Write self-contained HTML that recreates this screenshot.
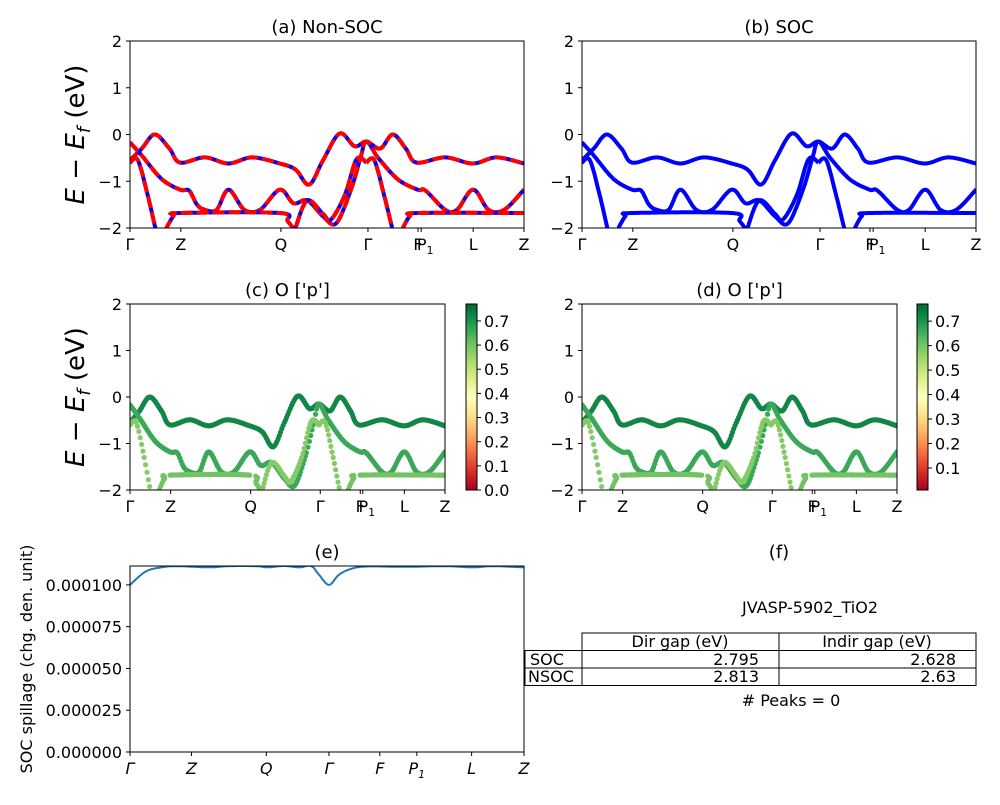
<!DOCTYPE html>
<html><head><meta charset="utf-8">
<style>
body{margin:0;background:#fff;}
svg text{font-family:"DejaVu Sans","Liberation Sans",sans-serif;fill:#000;}
</style></head>
<body>
<svg id="fig" width="1000" height="800" viewBox="0 0 1000 800" xmlns="http://www.w3.org/2000/svg">
<defs>
<linearGradient id="cmapA" x1="0" y1="1" x2="0" y2="0">
<stop offset="0" stop-color="#a50026"/><stop offset="0.1" stop-color="#d73027"/><stop offset="0.2" stop-color="#f46d43"/><stop offset="0.3" stop-color="#fdae61"/><stop offset="0.4" stop-color="#fee08b"/><stop offset="0.5" stop-color="#ffffbf"/><stop offset="0.6" stop-color="#d9ef8b"/><stop offset="0.7" stop-color="#a6d96a"/><stop offset="0.8" stop-color="#66bd63"/><stop offset="0.9" stop-color="#1a9850"/><stop offset="1" stop-color="#006837"/>
</linearGradient>
</defs>
<g id="root"></g>
</svg>
<script>
// ---- data ----
const kLabels = ["Γ","Z","Q","Γ","F","P","L","Z"];
const kTicks = [0,0.129,0.383,0.604,0.731,0.739,0.871,1];
const yTicks = [-2,-1,0,1,2];
const bandT = [[0,-0.55],[0.03,-0.3],[0.063,0],[0.1,-0.3],[0.127,-0.6],[0.19,-0.49],[0.25,-0.62],[0.31,-0.49],[0.38,-0.62],[0.42,-0.75],[0.455,-1.07],[0.49,-0.55],[0.532,0.02],[0.57,-0.25],[0.6,-0.15],[0.635,-0.3],[0.667,0],[0.7,-0.3],[0.727,-0.6],[0.8,-0.49],[0.87,-0.62],[0.93,-0.49],[1,-0.62]];
const bandB = [[0,-0.17],[0.03,-0.45],[0.08,-0.95],[0.127,-1.18],[0.15,-1.2],[0.17,-1.5],[0.19,-1.61],[0.22,-1.61],[0.25,-1.18],[0.29,-1.61],[0.33,-1.61],[0.38,-1.18],[0.415,-1.47],[0.45,-1.41],[0.49,-1.75],[0.523,-1.9],[0.56,-1.2],[0.585,-0.5],[0.6,-0.15],[0.63,-0.5],[0.68,-0.96],[0.73,-1.18],[0.75,-1.2],[0.8,-1.61],[0.83,-1.61],[0.871,-1.18],[0.91,-1.61],[0.95,-1.61],[1,-1.18]];
const bandD = [[0,-0.6],[0.02,-0.55],[0.045,-1.3],[0.066,-2.05],[0.08,-2.4]];
const bandE = [[0.075,-2.4],[0.09,-2.05],[0.11,-1.75],[0.127,-1.68],[0.38,-1.68],[0.4,-1.85],[0.417,-2.05],[0.43,-2.3]];
const bandG = [[0.41,-2.3],[0.42,-2.0],[0.45,-1.41],[0.49,-1.7],[0.51,-1.82],[0.545,-1.3],[0.575,-0.53],[0.6,-0.6]];
const bandD2 = [[0.6,-0.6],[0.62,-0.55],[0.645,-1.3],[0.667,-2.05],[0.68,-2.4]];
const bandE2 = [[0.675,-2.4],[0.69,-2.05],[0.71,-1.75],[0.73,-1.68],[1,-1.68]];
const bands = [bandT,bandB,bandD,bandE,bandG,bandD2,bandE2];
const bandWeight = [0.72,0.66,0.58,0.6,0.58,0.58,0.6];
const spillT = [0,0.04,0.08,0.12,0.2,0.25,0.32,0.35,0.38,0.4,0.43,0.46,0.48,0.505,0.53,0.56,0.6,0.7,0.8,0.87,0.92,1];
const spillV = [10.0,10.8,11.05,11.12,11.05,11.12,11.12,11.05,11.12,11.12,11.05,11.12,10.6,10.0,10.6,10.95,11.1,11.08,11.12,11.05,11.12,11.05];
const spillTickT = [0,0.156,0.346,0.505,0.634,0.728,0.867,1];
const spillTickL = ["Γ","Z","Q","Γ","F","P","L","Z"];
const spillYTicks = [0,2.5,5,7.5,10];
const spillYLabels = ["0.000000","0.000025","0.000050","0.000075","0.000100"];
const cbTicksC = [0,0.1,0.2,0.3,0.4,0.5,0.6,0.7];
const cbTicksD = [0.1,0.2,0.3,0.4,0.5,0.6,0.7];

const NS="http://www.w3.org/2000/svg";
const root=document.getElementById('root');
function el(tag,attrs,parent,text){const e=document.createElementNS(NS,tag);for(const k in attrs)e.setAttribute(k,attrs[k]);if(text!==undefined)e.textContent=text;(parent||root).appendChild(e);return e;}

function cr(p0,p1,p2,p3,t){const t2=t*t,t3=t2*t;return 0.5*((2*p1)+(-p0+p2)*t+(2*p0-5*p1+4*p2-p3)*t2+(-p0+3*p1-3*p2+p3)*t3);}
function sample(b,n){const out=[];for(let i=0;i<b.length-1;i++){const p0=b[Math.max(0,i-1)],p1=b[i],p2=b[i+1],p3=b[Math.min(b.length-1,i+2)];const m=Math.max(2,Math.round((p2[0]-p1[0])*n));for(let j=0;j<m;j++){const t=j/m;out.push([cr(p0[0],p1[0],p2[0],p3[0],t),cr(p0[1],p1[1],p2[1],p3[1],t)]);}}out.push(b[b.length-1]);return out;}
const stops=[[0,[165,0,38]],[0.1,[215,48,39]],[0.2,[244,109,67]],[0.3,[253,174,97]],[0.4,[254,224,139]],[0.5,[255,255,191]],[0.6,[217,239,139]],[0.7,[166,217,106]],[0.8,[102,189,99]],[0.9,[26,152,80]],[1,[0,104,55]]];
function cmap(v){v=Math.max(0,Math.min(1,v));for(let i=0;i<stops.length-1;i++){if(v<=stops[i+1][0]){const t=(v-stops[i][0])/0.1;const c=stops[i][1].map((a,j)=>Math.round(a+(stops[i+1][1][j]-a)*t));return `rgb(${c})`;}}return 'rgb(0,104,55)';}

let clipId=0;
function panel(name,x0,x1,y0,y1,title,mode,showY){
  const g=el('g',{});
  const sx=k=>x0+k*(x1-x0), sy=e=>y1-(e+2)/4*(y1-y0);
  const id='clip'+(clipId++);
  const cp=el('clipPath',{id:id},g);el('rect',{x:x0,y:y0,width:x1-x0,height:y1-y0},cp);
  const marks=el('g',{'clip-path':`url(#${id})`},g);
  
  
  bands.forEach((b,bi)=>{
    if(mode==='dots'){
      const pts=sample(b,260);
      const col=cmap(bandWeight[bi]/0.77);
      pts.forEach(p=>{el('circle',{cx:sx(p[0]),cy:sy(p[1]),r:2.6,fill:col},marks);});
    }else{
      const pts=sample(b,800).map(p=>sx(p[0]).toFixed(1)+','+sy(p[1]).toFixed(1)).join(' ');
      const l=el('polyline',{points:pts,fill:'none',stroke:'#0000ff','stroke-width':4,'stroke-linejoin':'round'},marks);
      
      
      if(mode==='dash'){const d=el('polyline',{points:pts,fill:'none',stroke:'#ff0000','stroke-width':4,'stroke-dasharray':'12,4'},marks);
        
        }
    }
  });
  el('rect',{x:x0,y:y0,width:x1-x0,height:y1-y0,fill:'none',stroke:'#000','stroke-width':1},g);
  kTicks.forEach((k,i)=>{el('line',{x1:sx(k),x2:sx(k),y1:y1,y2:y1+4,stroke:'#000'},g);
    const t=el('text',{x:sx(k),y:y1+22,'font-size':16,'text-anchor':'middle'},g,kLabels[i]);
    if(i===5){t.setAttribute('x',sx(k)+4);el('tspan',{'font-size':11,dy:4},t,'1');}});
  yTicks.forEach(v=>{el('line',{x1:x0-4,x2:x0,y1:sy(v),y2:sy(v),stroke:'#000'},g);
    el('text',{x:x0-8,y:sy(v)+6,'font-size':16,'text-anchor':'end'},g,String(v).replace('-','−'));});
  el('text',{x:(x0+x1)/2,y:y0-8,'font-size':18,'text-anchor':'middle'},g,title);
  if(showY){const t=el('text',{transform:`translate(84,${(y0+y1)/2}) rotate(-90)`,'font-size':26,'text-anchor':'middle'},g);
    
    t.innerHTML='<tspan font-style="italic">E</tspan> − <tspan font-style="italic">E</tspan><tspan font-style="italic" font-size="18" dy="6">f</tspan><tspan dy="-6"> (eV)</tspan>';}
}
function colorbar(name,x,y0,y1,vmin,vmax,ticks){
  const g=el('g',{});
  el('rect',{x:x,y:y0,width:11,height:y1-y0,fill:'url(#cmapA)',stroke:'#000'},g);
  ticks.forEach(v=>{const yy=y1-(v-vmin)/(vmax-vmin)*(y1-y0);el('line',{x1:x+11,x2:x+15,y1:yy,y2:yy,stroke:'#000'},g);
    el('text',{x:x+18,y:yy+6,'font-size':16},g,v.toFixed(1));});
}
panel('panel-a-non-soc',130,524,41,228,'(a) Non-SOC','dash',true);
panel('panel-b-soc',582,976,41,228,'(b) SOC','line',false);
panel('panel-c-o-p',130,445,304,490,'(c)  O [\'p\']','dots',true);
panel('panel-d-o-p',582,897,304,490,'(d) O [\'p\']','dots',false);
colorbar('colorbar-c',466,304,490,0,0.77,cbTicksC);
colorbar('colorbar-d',917,304,490,0.01,0.77,cbTicksD);

// panel e
(function(){
  const x0=130,x1=524,y0=566,y1=752;
  const g=el('g',{});
  const sx=t=>x0+t*(x1-x0), sy=v=>y1-v/11.13*(y1-y0);
  const cp=el('clipPath',{id:'clipE'},g);el('rect',{x:x0,y:y0,width:x1-x0,height:y1-y0},cp);
  const pts=sample(spillT.map((t,i)=>[t,spillV[i]]),800).map(p=>sx(p[0]).toFixed(1)+','+sy(p[1]).toFixed(1)).join(' ');
  const l=el('polyline',{points:pts,fill:'none',stroke:'#1f77b4','stroke-width':2,'clip-path':'url(#clipE)'},g);
  
  
  el('rect',{x:x0,y:y0,width:x1-x0,height:y1-y0,fill:'none',stroke:'#000'},g);
  spillTickT.forEach((t,i)=>{el('line',{x1:sx(t),x2:sx(t),y1:y1,y2:y1+4,stroke:'#000'},g);
    const tx=el('text',{x:sx(t),y:y1+22,'font-size':16,'text-anchor':'middle','font-style':'italic'},g,spillTickL[i]);
    if(i===5){el('tspan',{'font-size':11,dy:4},tx,'1');}});
  spillYTicks.forEach((v,i)=>{el('line',{x1:x0-4,x2:x0,y1:sy(v),y2:sy(v),stroke:'#000'},g);
    el('text',{x:x0-8,y:sy(v)+6,'font-size':16,'text-anchor':'end'},g,spillYLabels[i]);});
  el('text',{x:(x0+x1)/2,y:558,'font-size':18,'text-anchor':'middle'},g,'(e)');
  const yt=el('text',{transform:'translate(32,659) rotate(-90)','font-size':16,'text-anchor':'middle'},g,'SOC spillage (chg. den. unit)');
  
})();

// panel f
(function(){
  const g=el('g',{});
  el('text',{x:779,y:558,'font-size':18,'text-anchor':'middle'},g,'(f)');
  el('text',{x:810,y:613,'font-size':16,'text-anchor':'middle'},g,'JVASP-5902_TiO2');
  el('rect',{x:582,y:633,width:394,height:17.5,fill:'none',stroke:'#000'},g);
  el('rect',{x:525,y:650.5,width:451,height:35,fill:'none',stroke:'#000'},g);
  el('line',{x1:525,x2:976,y1:668,y2:668,stroke:'#000'},g);
  el('line',{x1:582,x2:582,y1:650,y2:686,stroke:'#000'},g);
  el('line',{x1:779,x2:779,y1:633,y2:686,stroke:'#000'},g);
  el('text',{x:680,y:647,'font-size':16,'text-anchor':'middle'},g,'Dir gap (eV)');
  el('text',{x:877,y:647,'font-size':16,'text-anchor':'middle'},g,'Indir gap (eV)');
  el('text',{x:530,y:665,'font-size':16},g,'SOC');
  el('text',{x:528,y:682,'font-size':16},g,'NSOC');
  el('text',{x:759,y:665,'font-size':16,'text-anchor':'end'},g,'2.795');
  el('text',{x:759,y:682,'font-size':16,'text-anchor':'end'},g,'2.813');
  el('text',{x:956,y:665,'font-size':16,'text-anchor':'end'},g,'2.628');
  el('text',{x:956,y:682,'font-size':16,'text-anchor':'end'},g,'2.63');
  el('text',{x:791,y:706,'font-size':16,'text-anchor':'middle'},g,'# Peaks = 0');
})();
</script>
</body></html>
